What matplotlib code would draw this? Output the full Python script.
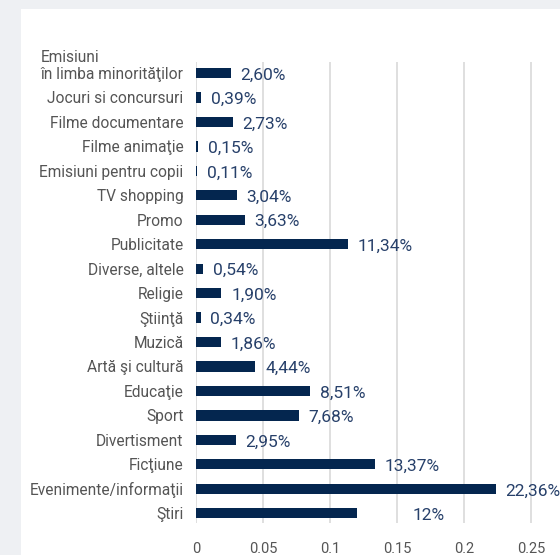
import matplotlib
matplotlib.use('Agg')
import matplotlib.pyplot as plt
from matplotlib.patches import Rectangle

plt.rcParams['font.family'] = ['Roboto', 'DejaVu Sans']

# Data
categories = ['în limba minorităţilor', 'Jocuri si concursuri', 'Filme documentare',
              'Filme animaţie', 'Emisiuni pentru copii', 'TV shopping', 'Promo',
              'Publicitate', 'Diverse, altele', 'Religie', 'Ştiinţă', 'Muzică',
              'Artă şi cultură', 'Educaţie', 'Sport', 'Divertisment', 'Ficţiune',
              'Evenimente/informaţii', 'Ştiri']
values = [0.0260, 0.0039, 0.0273, 0.0015, 0.0011, 0.0304, 0.0363, 0.1134, 0.0054,
          0.0190, 0.0034, 0.0186, 0.0444, 0.0851, 0.0768, 0.0295, 0.1337, 0.2236, 0.1200]
value_labels = ['2,60%', '0,39%', '2,73%', '0,15%', '0,11%', '3,04%', '3,63%', '11,34%',
                '0,54%', '1,90%', '0,34%', '1,86%', '4,44%', '8,51%', '7,68%', '2,95%',
                '13,37%', '22,36%', '12%']
xticks = [0, 0.05, 0.1, 0.15, 0.2, 0.25]
xtick_labels = ['0', '0.05', '0.1', '0.15', '0.2', '0.25']

fig = plt.figure(figsize=(5.6, 5.55), dpi=100, facecolor='#eef0f3')
# white card behind the chart
fig.patches.append(Rectangle((21 / 560, 0), 1, 1 - 9 / 555, transform=fig.transFigure,
                             facecolor='white', edgecolor='none', zorder=-5))

ax = fig.add_axes([196 / 560, 1 - 523 / 555, 1 - 196 / 560, (523 - 62) / 555])
ax.set_facecolor('none')
ax.set_zorder(5)

pos = list(range(len(categories)))
ax.barh(pos, values, height=0.42, color='#04264f', zorder=3)

for p, v, lab in zip(pos, values, value_labels):
    off = 40 if lab == '12%' else 7
    ax.annotate(lab, (v, p), xytext=(off, -1.5), textcoords='offset points',
                va='center', ha='left', fontsize=12.5, color='#27406a',
                annotation_clip=False, clip_on=False)

ax.set_ylim(18.4, -0.45)
ax.set_xlim(0, 364 / 1340)
ax.set_yticks(pos)
ax.set_yticklabels(categories, fontsize=11.2, color='#555555')
ax.set_xticks(xticks)
ax.set_xticklabels(xtick_labels, fontsize=10.5, color='#555555')
ax.tick_params(axis='both', length=0)
ax.tick_params(axis='y', pad=9)
ax.tick_params(axis='x', pad=14)
ax.grid(axis='x', color='#dcdcdc', linewidth=1.3, zorder=0)
for s in ax.spines.values():
    s.set_visible(False)

# first line of the wrapped first category, aligned with the start of the second line
fig.canvas.draw()
bb = ax.get_yticklabels()[0].get_window_extent()
x0 = fig.transFigure.inverted().transform((bb.x0, bb.y1))
fig.text(x0[0], x0[1] + 2 / 555, 'Emisiuni', ha='left', va='bottom',
         fontsize=11.2, color='#555555')

fig.savefig('out.png', dpi=100, facecolor=fig.get_facecolor())
